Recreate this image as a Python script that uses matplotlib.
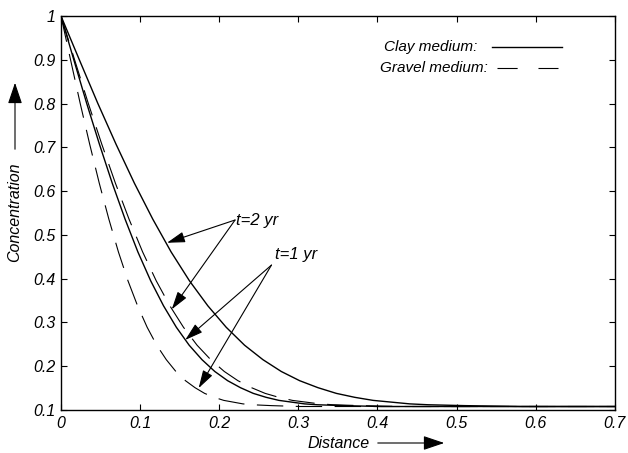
import matplotlib
matplotlib.use("Agg")
import matplotlib.pyplot as plt
from matplotlib.patches import FancyArrowPatch

plt.rcParams['font.family'] = ['Liberation Sans', 'DejaVu Sans']
plt.rcParams['font.style'] = 'italic'
plt.rcParams['lines.scale_dashes'] = False

# Concentration levels (same sequence of levels for all curves)
conc_levels = [1.000, 0.900, 0.801, 0.707, 0.618, 0.536, 0.461, 0.395, 0.338, 0.289,
               0.248, 0.215, 0.188, 0.167, 0.151, 0.138, 0.129, 0.122, 0.118, 0.114,
               0.112, 0.110, 0.108, 0.108]

# Distance at which each curve reaches the levels above
clay_t2_x = [0, 0.0232, 0.0464, 0.0696, 0.0928, 0.116, 0.1392, 0.1624, 0.1856, 0.2088,
             0.232, 0.2552, 0.2784, 0.3016, 0.3248, 0.348, 0.3712, 0.3944, 0.4176, 0.4408,
             0.464, 0.5104, 0.58, 0.7]
clay_t1_x = [0, 0.0162, 0.0324, 0.0486, 0.0648, 0.081, 0.0972, 0.1134, 0.1296, 0.1458,
             0.162, 0.1782, 0.1944, 0.2106, 0.2268, 0.243, 0.2592, 0.2754, 0.2916, 0.3078,
             0.324, 0.3564, 0.405, 0.7]
gravel_t2_x = [0, 0.0172, 0.0344, 0.0516, 0.0688, 0.086, 0.1032, 0.1204, 0.1376, 0.1548,
               0.172, 0.1892, 0.2064, 0.2236, 0.2408, 0.258, 0.2752, 0.2924, 0.3096, 0.3268,
               0.344, 0.3784, 0.43, 0.7]
gravel_t1_x = [0, 0.0121, 0.0242, 0.0363, 0.0484, 0.0605, 0.0726, 0.0847, 0.0968, 0.1089,
               0.121, 0.1331, 0.1452, 0.1573, 0.1694, 0.1815, 0.1936, 0.2057, 0.2178, 0.2299,
               0.242, 0.2662, 0.3025, 0.7]

x_ticks = [0, 0.1, 0.2, 0.3, 0.4, 0.5, 0.6, 0.7]
x_tick_labels = ['0', '0.1', '0.2', '0.3', '0.4', '0.5', '0.6', '0.7']
y_ticks = [0.1, 0.2, 0.3, 0.4, 0.5, 0.6, 0.7, 0.8, 0.9, 1.0]
y_tick_labels = ['0.1', '0.2', '0.3', '0.4', '0.5', '0.6', '0.7', '0.8', '0.9', '1']

legend_labels = ['Clay medium:', 'Gravel medium:']
t2_label = 't=2 yr'
t1_label = 't=1 yr'

fig = plt.figure(figsize=(6.28, 4.53), dpi=100)
ax = fig.add_axes([0.0971, 0.0949, 0.882, 0.8698])

dash = (0, (19, 9))
ax.plot(clay_t2_x, conc_levels, color='black', lw=1.0)
ax.plot(clay_t1_x, conc_levels, color='black', lw=1.0)
ax.plot(gravel_t2_x, conc_levels, color='black', lw=0.8, linestyle=dash)
ax.plot(gravel_t1_x, conc_levels, color='black', lw=0.8, linestyle=dash)

ax.set_xlim(0, 0.7)
ax.set_ylim(0.1, 1.0)
ax.set_xticks(x_ticks)
ax.set_xticklabels(x_tick_labels)
ax.set_yticks(y_ticks)
ax.set_yticklabels(y_tick_labels)
ax.tick_params(direction='in', length=4, width=0.8, top=True, right=True,
               labelsize=11.5, pad=4)
for s in ax.spines.values():
    s.set_linewidth(1.0)

# MATLAB-style legend: text then line sample
ax.text(0.583, 0.921, legend_labels[0], transform=ax.transAxes, fontsize=11,
        ha='left', va='center')
ax.plot([0.778, 0.904], [0.921, 0.921], transform=ax.transAxes, color='black', lw=1.0)
ax.text(0.576, 0.868, legend_labels[1], transform=ax.transAxes, fontsize=11,
        ha='left', va='center')
ax.plot([0.787, 0.897], [0.868, 0.868], transform=ax.transAxes, color='black', lw=0.8,
        linestyle=(0, (14.5, 15)))

# Annotations
arrow_kw = dict(arrowstyle='-|>,head_length=1.1,head_width=0.33', color='black',
                lw=0.8, shrinkA=0, shrinkB=0, mutation_scale=10)
t2_origin = (0.22, 0.534)
t2_tips = [(0.134, 0.482), (0.140, 0.330)]
t1_origin = (0.266, 0.431)
t1_tips = [(0.157, 0.260), (0.174, 0.150)]
for tip in t2_tips:
    ax.annotate('', xy=tip, xytext=t2_origin, arrowprops=arrow_kw)
for tip in t1_tips:
    ax.annotate('', xy=tip, xytext=t1_origin, arrowprops=arrow_kw)
ax.text(0.2215, 0.532, t2_label, fontsize=12, ha='left', va='center')
ax.text(0.2705, 0.456, t1_label, fontsize=12, ha='left', va='center')

# Axis labels with arrows
fig.text(307 / 628, 1 - 443 / 453, 'Distance', fontsize=11.5, ha='left', va='center')
fig.patches.append(FancyArrowPatch(
    (375 / 628, 1 - 443 / 453), (447 / 628, 1 - 443 / 453), transform=fig.transFigure,
    arrowstyle='-|>,head_length=0.65,head_width=0.22', mutation_scale=20,
    color='black', lw=0.8))
fig.text(15 / 628, 1 - 212 / 453, 'Concentration', fontsize=11.5, rotation=90,
         ha='center', va='center')
fig.patches.append(FancyArrowPatch(
    (15 / 628, 1 - 152 / 453), (15 / 628, 1 - 80 / 453), transform=fig.transFigure,
    arrowstyle='-|>,head_length=0.65,head_width=0.22', mutation_scale=20,
    color='black', lw=0.8))

fig.savefig('out.png', dpi=100)
